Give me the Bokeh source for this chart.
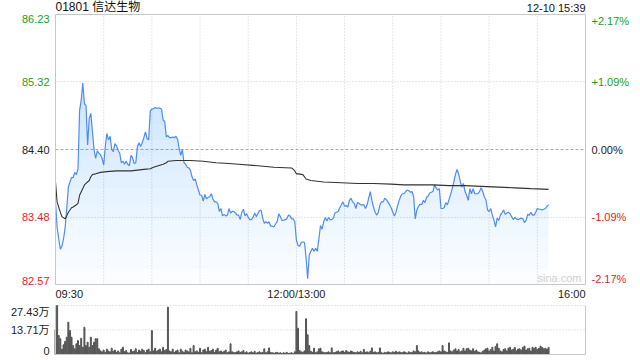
from bokeh.plotting import figure
from bokeh.models import Range1d, LinearAxis
from bokeh.core.properties import value
from bokeh.embed import file_html
from bokeh.resources import INLINE
import numpy as np

title_code = "01801 信达生物"
stamp = "12-10 15:39"
prev_close = 84.40
price_ticks = [86.23, 85.32, 84.40, 83.48, 82.57]
pct_labels = ["+2.17%", "+1.09%", "0.00%", "-1.09%", "-2.17%"]
session_minutes = 330
grid_step = 30
time_ticks = [0, 150, 330]
time_labels = ["09:30", "12:00/13:00", "16:00"]
vol_ticks = [27.43, 13.71, 0]
vol_labels = ["27.43万", "13.71万", "0"]

# last price, one value per minute from 09:30
price = [
    83.69, 83.35, 83.19, 83.05, 83.09, 83.19, 83.34, 83.60, 83.89, 83.96,
    84.02, 84.02, 84.09, 84.06, 84.14, 84.93, 85.07, 85.30, 85.02, 85.00,
    84.46, 84.82, 84.89, 84.64, 84.40, 84.28, 84.38, 84.35, 84.33, 84.28,
    84.19, 84.44, 84.62, 84.53, 84.58, 84.40, 84.37, 84.48, 84.45, 84.39,
    84.35, 84.22, 84.24, 84.20, 84.24, 84.20, 84.18, 84.32, 84.29, 84.21,
    84.22, 84.44, 84.49, 84.44, 84.49, 84.56, 84.64, 84.55, 84.53, 84.92,
    84.95, 84.95, 84.97, 84.96, 84.96, 84.96, 84.95, 84.80, 84.78, 84.57,
    84.59, 84.56, 84.56, 84.57, 84.56, 84.58, 84.54, 84.41, 84.32, 84.40,
    84.22, 84.20, 84.16, 84.15, 84.12, 84.03, 83.98, 84.00, 83.92, 83.85,
    83.78, 83.78, 83.70, 83.79, 83.73, 83.75, 83.76, 83.80, 83.73, 83.69,
    83.69, 83.67, 83.56, 83.60, 83.50, 83.52, 83.50, 83.51, 83.60, 83.54,
    83.56, 83.56, 83.54, 83.51, 83.51, 83.45, 83.55, 83.59, 83.50, 83.53,
    83.48, 83.45, 83.45, 83.48, 83.54, 83.49, 83.53, 83.57, 83.58, 83.47,
    83.40, 83.42, 83.40, 83.42, 83.36, 83.36, 83.35, 83.39, 83.42, 83.53,
    83.49, 83.44, 83.44, 83.45, 83.46, 83.51, 83.50, 83.46, 83.46, 83.42,
    83.17, 83.10, 83.09, 83.14, 83.15, 83.14, 82.94, 82.65, 82.97, 83.02,
    83.06, 83.02, 83.06, 83.02, 83.19, 83.37, 83.32, 83.42, 83.48, 83.43,
    83.48, 83.45, 83.45, 83.47, 83.54, 83.55, 83.56, 83.61, 83.65, 83.69,
    83.63, 83.64, 83.62, 83.71, 83.74, 83.69, 83.67, 83.60, 83.68, 83.67,
    83.65, 83.65, 83.65, 83.60, 83.65, 83.74, 83.83, 83.71, 83.62, 83.55,
    83.51, 83.55, 83.65, 83.69, 83.69, 83.74, 83.72, 83.69, 83.65, 83.61,
    83.55, 83.50, 83.55, 83.64, 83.71, 83.77, 83.80, 83.80, 83.83, 83.85,
    83.84, 83.82, 83.83, 83.76, 83.46, 83.58, 83.63, 83.66, 83.65, 83.71,
    83.68, 83.75, 83.77, 83.81, 83.82, 83.83, 83.92, 83.88, 83.85, 83.87,
    83.60, 83.60, 83.61, 83.68, 83.65, 83.72, 83.79, 83.87, 83.96, 84.06,
    84.13, 84.07, 83.97, 83.89, 83.94, 83.83, 83.78, 83.71, 83.87, 83.80,
    83.87, 83.80, 83.80, 83.80, 83.83, 83.88, 83.83, 83.76, 83.72, 83.58,
    83.56, 83.60, 83.51, 83.44, 83.35, 83.47, 83.44, 83.51, 83.54, 83.58,
    83.52, 83.54, 83.55, 83.53, 83.49, 83.45, 83.48, 83.46, 83.45, 83.46,
    83.47, 83.46, 83.41, 83.44, 83.52, 83.51, 83.55, 83.51, 83.51, 83.55,
    83.60, 83.59, 83.59, 83.58, 83.59, 83.60, 83.63, 83.65,
]

# average price line
vwap_t = [0, 1, 2, 3, 4, 6, 7, 8, 10, 11, 13, 14, 15, 17, 18, 19, 21, 22, 23, 25,
          28, 32, 38, 47, 55, 59, 61, 67, 69, 70, 75, 84, 92, 100, 108, 114, 126,
          136, 147, 149, 150, 151, 154, 155, 156, 159, 167, 178, 188, 198, 209,
          217, 224, 235, 245, 255, 265, 276, 286, 296, 307]
vwap = [83.96, 83.69, 83.62, 83.55, 83.49, 83.46, 83.50, 83.55, 83.61, 83.62,
        83.65, 83.67, 83.78, 83.87, 83.92, 83.94, 83.98, 84.03, 84.06, 84.07,
        84.09, 84.10, 84.11, 84.11, 84.13, 84.14, 84.16, 84.20, 84.22, 84.24,
        84.25, 84.25, 84.24, 84.22, 84.21, 84.20, 84.18, 84.16, 84.15, 84.11,
        84.07, 84.07, 84.06, 84.03, 84.00, 83.98, 83.96, 83.95, 83.94, 83.94,
        83.93, 83.92, 83.92, 83.92, 83.91, 83.91, 83.90, 83.89, 83.88, 83.87,
        83.86]

# volume per minute, 万股
volume = [
    14.0, 27.43, 10.6, 8.8, 3.0, 5.4, 7.3, 9.7, 18.1, 13.4,
    9.7, 5.0, 3.2, 6.0, 7.8, 5.0, 9.1, 4.1, 15.3, 5.0,
    6.9, 4.1, 9.7, 5.0, 6.9, 8.8, 8.8, 3.2, 2.0, 1.5,
    2.5, 1.2, 3.0, 2.0, 1.5, 3.5, 1.8, 2.5, 1.2, 2.0,
    1.0, 3.0, 4.1, 1.5, 2.2, 1.0, 0.8, 2.8, 1.5, 2.0,
    3.2, 1.2, 2.5, 1.8, 3.0, 2.2, 1.0, 2.5, 3.0, 1.5,
    13.4, 2.0, 3.5, 1.8, 2.5, 3.0, 1.5, 4.0, 2.2, 2.8,
    26.5, 2.0, 1.5, 3.0, 1.2, 2.0, 2.5, 1.0, 3.0, 1.8,
    1.2, 2.5, 2.0, 1.5, 3.5, 1.0, 5.0, 1.5, 2.0, 1.2,
    3.5, 1.0, 2.5, 3.0, 1.5, 4.0, 1.8, 2.2, 3.0, 1.2,
    2.5, 3.5, 1.5, 2.0, 1.2, 1.8, 2.5, 1.0, 1.5, 6.0,
    1.5, 1.2, 1.0, 1.5, 2.0, 1.2, 1.5, 2.2, 1.0, 1.5,
    0.8, 1.2, 1.5, 1.0, 1.8, 0.8, 1.2, 1.5, 1.0, 1.2,
    3.2, 1.0, 1.5, 3.7, 1.2, 1.0, 0.8, 1.0, 1.2, 0.8,
    1.0, 0.6, 1.0, 0.8, 1.2, 0.6, 0.8, 1.0, 0.5, 1.5,
    24.1, 14.7, 2.2, 1.5, 1.2, 2.0, 20.0, 11.0, 5.0, 1.8,
    1.2, 3.5, 1.0, 1.5, 3.2, 3.5, 1.5, 1.2, 1.0, 1.2,
    1.5, 1.0, 3.7, 1.0, 1.2, 1.5, 2.0, 1.2, 1.8, 2.0,
    1.2, 2.2, 1.5, 1.2, 2.0, 1.5, 1.2, 1.0, 1.5, 1.2,
    1.8, 1.0, 2.8, 1.2, 1.5, 1.0, 1.8, 3.7, 1.2, 1.5,
    1.0, 1.2, 3.7, 1.0, 0.8, 1.2, 1.0, 1.5, 1.2, 1.0,
    1.5, 1.2, 1.8, 1.0, 1.5, 1.2, 1.0, 1.5, 1.2, 0.8,
    1.5, 1.0, 1.2, 2.0, 1.5, 5.0, 2.0, 1.2, 1.5, 1.0,
    1.2, 0.8, 1.5, 1.0, 1.2, 1.5, 1.0, 1.2, 1.5, 2.0,
    1.5, 5.0, 2.0, 1.5, 1.2, 6.5, 2.0, 1.5, 2.5, 3.2,
    2.0, 2.8, 1.5, 2.0, 3.5, 2.0, 3.2, 3.5, 2.5, 2.0,
    3.2, 1.8, 2.5, 1.5, 1.2, 1.0, 1.8, 2.5, 3.2, 3.5,
    2.0, 2.8, 4.0, 2.0, 4.5, 6.0, 3.5, 2.0, 1.5, 2.8,
    3.2, 2.0, 3.5, 4.0, 2.5, 3.0, 4.0, 2.0, 3.0, 3.2,
    2.5, 4.0, 4.7, 2.5, 3.2, 3.5, 2.0, 4.0, 3.5, 4.0,
    2.8, 3.5, 4.7, 4.0, 3.2, 3.5, 3.0, 4.0,
]

minutes = list(range(len(price)))
vol_minutes = list(range(len(volume)))

FONT = value("Liberation Sans, Noto Sans CJK SC, sans-serif")
GREEN = "#1b9e1b"
RED = "#e8231f"
DARK = "#222222"
GRID = "#cfcfcf"
FRAME = "#c8c8c8"

# ---- layout (pixels) ----
W, H = 640, 360
FX0, FX1 = 55, 585          # plot frame left/right
PY0, PY1 = 14, 284          # price panel top/bottom
VY0, VY1 = 305, 354         # volume panel top/bottom

p_top, p_bot = price_ticks[0], price_ticks[-1]
xs = (FX1 - FX0) / session_minutes
x_lo = -FX0 / xs
x_hi = session_minutes + (W - FX1) / xs
ys = (PY1 - PY0) / (p_top - p_bot)
y_hi = p_top + PY0 / ys
y_lo = p_bot - (H - PY1) / ys
vs = (VY1 - VY0) / vol_ticks[0]
v_hi = vol_ticks[0] + VY0 / vs
v_lo = -(H - VY1) / vs

p = figure(width=W, height=H, output_backend="svg", toolbar_location=None,
           x_range=Range1d(x_lo, x_hi), y_range=Range1d(y_lo, y_hi),
           x_axis_location=None, y_axis_location=None,
           min_border=0)
p.extra_y_ranges = {"vol": Range1d(v_lo, v_hi)}
p.outline_line_color = None
p.grid.visible = False
p.background_fill_color = "white"
p.border_fill_color = "white"

gx = list(range(grid_step, session_minutes, grid_step))
# price panel grid
p.segment(x0=gx, y0=p_bot, x1=gx, y1=p_top, line_color=GRID, line_dash="1 2",
          line_width=1)
p.segment(x0=0, y0=[price_ticks[1], price_ticks[3]], x1=session_minutes,
          y1=[price_ticks[1], price_ticks[3]], line_color=GRID, line_dash="1 2",
          line_width=1)
p.segment(x0=0, y0=prev_close, x1=session_minutes, y1=prev_close,
          line_color="#a8a8a8", line_dash="3 2", line_width=1)

# gradient-like area fill under the price line
pr = np.array(price)
levels = np.linspace(p_bot, 85.4, 14)
for lv in levels:
    p.varea(x=minutes, y1=lv, y2=np.maximum(pr, lv), fill_color="#4a86e8",
            fill_alpha=0.018)

p.line(minutes, price, line_color="#4f8cf0", line_width=1.2)
p.line(vwap_t, vwap, line_color="#333333", line_width=1.1)

p.quad(left=0, right=session_minutes, bottom=p_bot, top=p_top,
       fill_color=None, line_color=FRAME, line_width=1)

# volume panel
p.segment(x0=0, y0=vol_ticks[1], x1=session_minutes, y1=vol_ticks[1],
          line_color=GRID, line_dash="1 2", line_width=1, y_range_name="vol")
p.segment(x0=0, y0=vol_ticks[0], x1=session_minutes, y1=vol_ticks[0],
          line_color=GRID, line_dash="1 2", line_width=1, y_range_name="vol")
p.vbar(x=vol_minutes, top=volume, bottom=0, width=0.6, color="#555555",
       y_range_name="vol")
p.segment(x0=[0, session_minutes, 0], y0=[0, 0, 0],
          x1=[0, session_minutes, session_minutes],
          y1=[vol_ticks[0], vol_ticks[0], 0],
          line_color=FRAME, line_width=1, y_range_name="vol")


def txt(x, y, text, color, align, baseline, xo=0, yo=0, size="11px", rng="default"):
    p.text(x=[x], y=[y], text=[text], text_color=color, text_align=align,
           text_baseline=baseline, x_offset=xo, y_offset=yo,
           text_font=FONT, text_font_size=size, y_range_name=rng)


colors = [GREEN, GREEN, DARK, RED, RED]
baselines = ["top", "middle", "middle", "middle", "bottom"]
for tv, pl, c, b in zip(price_ticks, pct_labels, colors, baselines):
    txt(0, tv, f"{tv:.2f}", c, "right", b, xo=-6)
    txt(session_minutes, tv, pl, c, "left", b, xo=6)

txt(0, p_top, title_code, "#111111", "left", "bottom", yo=-1, size="12px")
txt(session_minutes, p_top, stamp, "#111111", "right", "bottom", yo=-1, size="11px")

aligns = ["left", "center", "right"]
for tt, tl, a in zip(time_ticks, time_labels, aligns):
    txt(tt, p_bot, tl, DARK, a, "top", yo=3)

txt(session_minutes, p_bot, "sina.com", "#d0d0d0", "right", "bottom", xo=-4, yo=-1)

vb = ["top", "middle", "bottom"]
for tv, tl, b in zip(vol_ticks, vol_labels, vb):
    txt(0, tv, tl, DARK, "right", b, xo=-6, rng="vol")

open("out.html", "w").write(file_html(p, INLINE))
